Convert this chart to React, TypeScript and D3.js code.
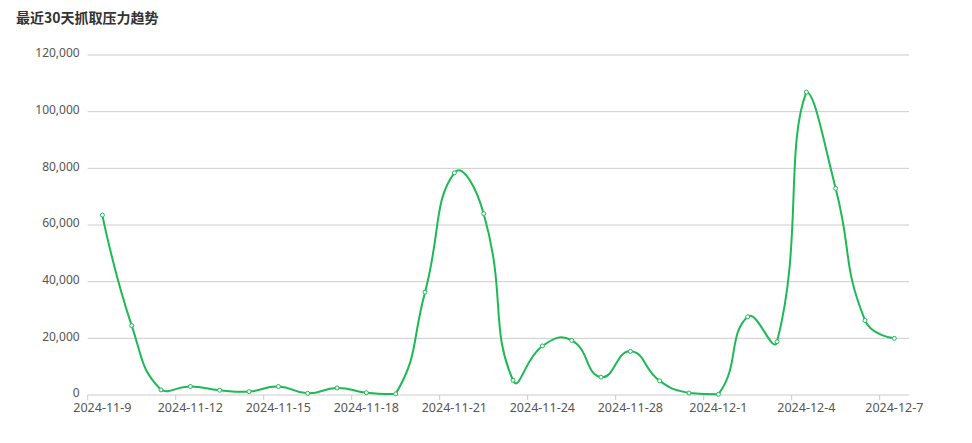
import React from "react";
import * as d3 from "d3";

const title = "最近30天抓取压力趋势";

const dates = [
  "2024-11-9", "2024-11-10", "2024-11-11", "2024-11-12", "2024-11-13", "2024-11-14",
  "2024-11-15", "2024-11-16", "2024-11-17", "2024-11-18", "2024-11-19", "2024-11-20",
  "2024-11-21", "2024-11-22", "2024-11-23", "2024-11-24", "2024-11-25", "2024-11-26",
  "2024-11-28", "2024-11-29", "2024-11-30", "2024-12-1", "2024-12-2", "2024-12-3",
  "2024-12-4", "2024-12-5", "2024-12-6", "2024-12-7",
];

const values = [
  63500, 24500, 1800, 3000, 1700, 1200,
  3000, 600, 2500, 800, 400, 36300,
  78400, 64000, 5200, 17300, 19300, 6300,
  15400, 5000, 700, 250, 27600, 18800,
  106900, 72900, 26300, 20000,
];

const yTicks = [0, 20000, 40000, 60000, 80000, 100000, 120000];

const W = 972;
const H = 443;
const left = 87.7;
const right = 909;
const top = 55;
const bottom = 395;
const green = "#1db954";
const numFont = "'Noto Sans', 'Microsoft YaHei', sans-serif";

// ECharts-like smooth curve (smooth = 0.5, global bbox constraint)
function echartsSmooth(context: any) {
  let pts: [number, number][] = [];
  return {
    areaStart() {},
    areaEnd() {},
    lineStart() {
      pts = [];
    },
    point(x: number, y: number) {
      pts.push([+x, +y]);
    },
    lineEnd() {
      const n = pts.length;
      if (!n) return;
      const s = 0.5;
      const minX = d3.min(pts, (p) => p[0])!;
      const maxX = d3.max(pts, (p) => p[0])!;
      const minY = d3.min(pts, (p) => p[1])!;
      const maxY = d3.max(pts, (p) => p[1])!;
      const clamp = (c: [number, number]): [number, number] => [
        Math.max(minX, Math.min(maxX, c[0])),
        Math.max(minY, Math.min(maxY, c[1])),
      ];
      const cin: [number, number][] = [];
      const cout: [number, number][] = [];
      for (let i = 0; i < n; i++) {
        const p = pts[i];
        if (i === 0 || i === n - 1) {
          cin.push([p[0], p[1]]);
          cout.push([p[0], p[1]]);
          continue;
        }
        const pr = pts[i - 1];
        const nx = pts[i + 1];
        const vx = (nx[0] - pr[0]) * s;
        const vy = (nx[1] - pr[1]) * s;
        let d0 = Math.hypot(p[0] - pr[0], p[1] - pr[1]);
        let d1 = Math.hypot(p[0] - nx[0], p[1] - nx[1]);
        const sum = d0 + d1;
        if (sum !== 0) {
          d0 /= sum;
          d1 /= sum;
        }
        cin.push(clamp([p[0] - vx * d0, p[1] - vy * d0]));
        cout.push(clamp([p[0] + vx * d1, p[1] + vy * d1]));
      }
      context.moveTo(pts[0][0], pts[0][1]);
      for (let i = 1; i < n; i++) {
        context.bezierCurveTo(
          cout[i - 1][0], cout[i - 1][1],
          cin[i][0], cin[i][1],
          pts[i][0], pts[i][1]
        );
      }
    },
  };
}

export default function App() {
  const x = d3.scaleBand<string>().domain(dates).range([left, right]).padding(0);
  const y = d3.scaleLinear().domain([0, 120000]).range([bottom, top]);
  const cx = (d: string) => (x(d) as number) + x.bandwidth() / 2;
  const fmt = d3.format(",");

  const data = dates.map((d, i) => ({ d, v: values[i] }));
  const line = d3
    .line<{ d: string; v: number }>()
    .x((p) => cx(p.d))
    .y((p) => y(p.v))
    .curve(echartsSmooth as any);

  return (
    <svg
      width={W}
      height={H}
      style={{ position: "absolute", left: 0, top: 0, background: "#fff" }}
    >
      <text
        x={16}
        y={23}
        fontSize={14}
        fontWeight="bold"
        fill="#333"
        fontFamily="'Noto Sans CJK SC', 'Microsoft YaHei', sans-serif"
      >
        {title}
      </text>

      {yTicks.map((t) => (
        <g key={t}>
          <line
            x1={left}
            x2={right}
            y1={y(t)}
            y2={y(t)}
            stroke="#cccccc"
            strokeWidth={1}
          />
          <text
            x={left - 8}
            y={y(t) - 1.2}
            dy="0.3em"
            textAnchor="end"
            fontSize={12}
            fill="#555"
            fontFamily={numFont}
          >
            {fmt(t)}
          </text>
        </g>
      ))}

      {dates.map((d, i) =>
        i % 3 === 0 ? (
          <g key={d}>
            <line
              x1={x(d) as number}
              x2={x(d) as number}
              y1={bottom}
              y2={bottom + 5}
              stroke="#cccccc"
            />
            <text
              x={cx(d)}
              y={412}
              textAnchor="middle"
              fontSize={12.5}
              fill="#555"
              fontFamily={numFont}
            >
              {d}
            </text>
          </g>
        ) : null
      )}

      <path d={line(data) || ""} fill="none" stroke={green} strokeWidth={2} />

      {data.map((p) => (
        <circle
          key={p.d}
          cx={cx(p.d)}
          cy={y(p.v)}
          r={2}
          fill="#fff"
          stroke={green}
          strokeWidth={1}
        />
      ))}
    </svg>
  );
}
